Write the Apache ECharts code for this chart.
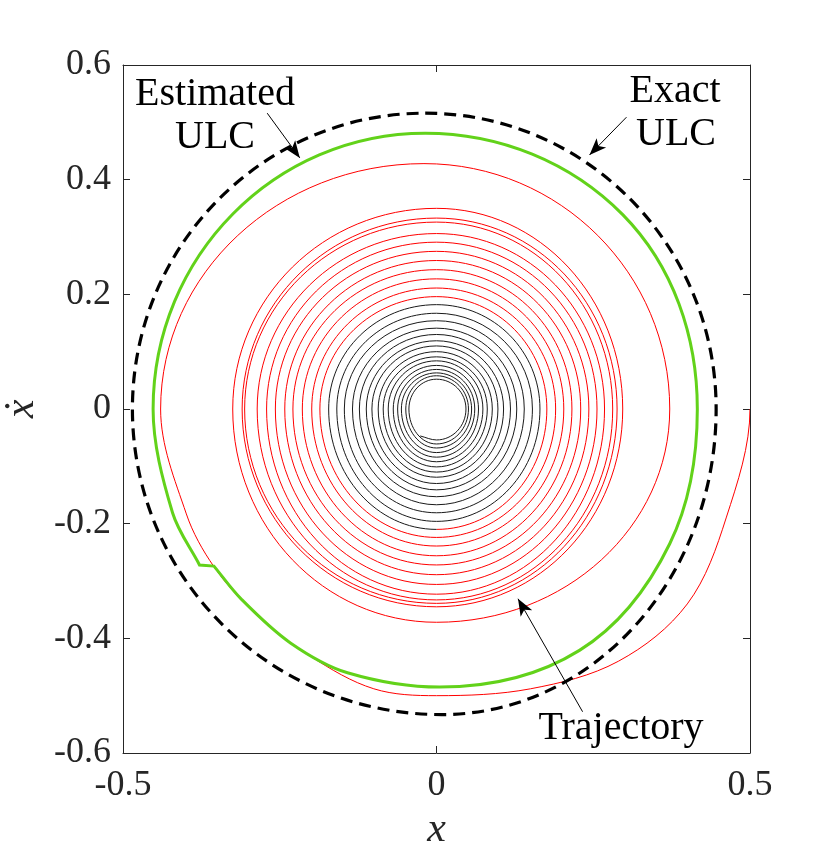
<!DOCTYPE html>
<html>
<head>
<meta charset="utf-8">
<script src="https://cdn.jsdelivr.net/npm/echarts@6/dist/echarts.min.js"></script>
<style>html,body{margin:0;padding:0;background:#fff}#c{width:830px;height:857px}</style>
</head>
<body>
<div id="c"></div>
<script>
// ---------- data ----------
var xTicks = [-0.5, 0, 0.5];
var yTicks = [-0.6, -0.4, -0.2, 0, 0.2, 0.4, 0.6];

// first one and a half turns of the trajectory (x, xdot)
var trajOuter = [
  [0.500, 0.000], [0.462, -0.190], [0.400, -0.340], [0.290, -0.440], [0.150, -0.488],
  [0.000, -0.500], [-0.100, -0.488], [-0.200, -0.432], [-0.290, -0.356], [-0.355, -0.275],
  [-0.399, -0.183], [-0.440, 0.000], [-0.020, 0.428], [0.372, 0.000], [0.000, -0.372]
];
// turn extremes of the red part (left x, top xdot, right x, bottom xdot)
var redLeft   = [-0.325, -0.310, -0.306, -0.286, -0.271, -0.257, -0.242, -0.229, -0.214, -0.199, -0.186];
var redTop    = [0.350, 0.333, 0.326, 0.306, 0.291, 0.275, 0.259, 0.243, 0.227, 0.211, 0.196];
var redRight  = [0.297, 0.288, 0.281, 0.268, 0.256, 0.243, 0.230, 0.216, 0.203, 0.190, 0.176];
var redBottom = [-0.345, -0.339, -0.333, -0.323, -0.306, -0.289, -0.272, -0.256, -0.239, -0.224, -0.210];
// turn extremes of the black part
var blackLeft   = [-0.172, -0.159, -0.147, -0.134, -0.123, -0.112, -0.103, -0.093, -0.085, -0.077, -0.069, -0.062, -0.056, -0.049, -0.044];
var blackTop    = [0.182, 0.167, 0.154, 0.141, 0.130, 0.119, 0.110, 0.100, 0.091, 0.084, 0.076, 0.069, 0.063, 0.058, 0.052];
var blackRight  = [0.165, 0.153, 0.140, 0.128, 0.118, 0.107, 0.098, 0.089, 0.081, 0.074, 0.067, 0.061, 0.056, 0.051, 0.047];
var blackBottom = [-0.196, -0.181, -0.167, -0.153, -0.141, -0.130, -0.119, -0.110, -0.101, -0.092, -0.084, -0.076, -0.068, -0.061, -0.054];
var trajEnd = [-0.026, -0.047];

// exact ULC extremes (top, right, bottom, left)
var exactULC = [[-0.018, 0.516], [0.446, 0.000], [0.008, -0.533], [-0.485, 0.000]];
// estimated ULC
var estULC = [
  [-0.018, 0.481], [0.297, 0.339], [0.416, 0.000], [0.372, -0.235], [0.228, -0.421],
  [0.005, -0.485], [-0.142, -0.460], [-0.233, -0.408], [-0.311, -0.332], [-0.355, -0.274],
  [-0.378, -0.272], [-0.421, -0.181], [-0.452, 0.000]
];
var estKinkIdx = [9, 10];

var arrows = [
  [[-0.270, 0.516], [-0.218, 0.438]],
  [[0.303, 0.509], [0.244, 0.443]],
  [[0.233, -0.528], [0.130, -0.331]]
];

// ---------- build point lists ----------
var redPts = trajOuter.slice();
for (var i = 0; i < redLeft.length; i++) {
  redPts.push([redLeft[i], 0], [0, redTop[i]], [redRight[i], 0], [0, redBottom[i]]);
}
var blackPts = [redPts[redPts.length - 1]];
for (var j = 0; j < blackLeft.length; j++) {
  blackPts.push([blackLeft[j], 0], [0, blackTop[j]], [blackRight[j], 0], [0, blackBottom[j]]);
}
blackPts.push(trajEnd);

function kinds(list, closed, corners) {
  var n = list.length;
  return list.map(function (p, i) {
    if (corners && corners.indexOf(i) >= 0) return 'C';
    if (p[1] === 0) return 'V';
    var a = closed ? list[(i - 1 + n) % n] : list[Math.max(0, i - 1)];
    var b = closed ? list[(i + 1) % n] : list[Math.min(n - 1, i + 1)];
    if (Math.abs(p[1]) >= Math.abs(a[1]) && Math.abs(p[1]) >= Math.abs(b[1])) return 'H';
    return '';
  });
}

function buildPath(api, list, closed, corners) {
  var ks = kinds(list, closed, corners);
  var P = list.map(function (p, i) { var c = api.coord(p); return { x: c[0], y: c[1], k: ks[i] }; });
  var n = P.length, K = 0.5523;
  function at(i) { return closed ? P[(i + n) % n] : P[Math.max(0, Math.min(n - 1, i))]; }
  function unit(dx, dy) { var l = Math.sqrt(dx * dx + dy * dy) || 1; return [dx / l, dy / l]; }
  var tin = [], tout = [];
  for (var i = 0; i < n; i++) {
    var p = P[i], a = at(i - 1), b = at(i + 1);
    if (p.k === 'C') { tin[i] = unit(p.x - a.x, p.y - a.y); tout[i] = unit(b.x - p.x, b.y - p.y); continue; }
    var dx = b.x - a.x, dy = b.y - a.y;
    if (p.k === 'H') dy = 0; else if (p.k === 'V') dx = 0;
    tin[i] = tout[i] = unit(dx, dy);
  }
  var f2 = function (v) { return v.toFixed(2); };
  var d = 'M' + f2(P[0].x) + ' ' + f2(P[0].y);
  var segs = closed ? n : n - 1;
  for (var s = 0; s < segs; s++) {
    var jj = (s + 1) % n, p0 = P[s], p1 = P[jj], t0 = tout[s], t1 = tin[jj], h0, h1;
    if ((p0.k === 'H' && p1.k === 'V') || (p0.k === 'V' && p1.k === 'H')) {
      h0 = K * (p0.k === 'H' ? Math.abs(p1.x - p0.x) : Math.abs(p1.y - p0.y));
      h1 = K * (p1.k === 'H' ? Math.abs(p1.x - p0.x) : Math.abs(p1.y - p0.y));
    } else {
      var ch = Math.sqrt((p1.x - p0.x) * (p1.x - p0.x) + (p1.y - p0.y) * (p1.y - p0.y));
      var c = Math.max(-1, Math.min(1, t0[0] * t1[0] + t0[1] * t1[1]));
      var th = Math.acos(c);
      var f = th < 1e-3 ? 1 / 3 : (4 / 3) * Math.tan(th / 4) / (2 * Math.sin(th / 2));
      h0 = h1 = ch * f;
    }
    d += ' C' + f2(p0.x + t0[0] * h0) + ' ' + f2(p0.y + t0[1] * h0) + ' ' +
         f2(p1.x - t1[0] * h1) + ' ' + f2(p1.y - t1[1] * h1) + ' ' + f2(p1.x) + ' ' + f2(p1.y);
  }
  if (closed) d += ' Z';
  return d;
}

function curveSeries(name, list, closed, corners, style) {
  return {
    name: name, type: 'custom', coordinateSystem: 'cartesian2d', clip: true, silent: true,
    data: [[0, 0]], encode: { x: 0, y: 1 },
    renderItem: function (params, api) {
      return { type: 'path', shape: { pathData: buildPath(api, list, closed, corners) }, style: style };
    }
  };
}

var FONT = '"Liberation Serif", "Times New Roman", "DejaVu Serif", serif';
var AX = '#262626';

function axisBase(extra) {
  var o = {
    type: 'value',
    axisLine: { show: true, onZero: false, lineStyle: { color: AX, width: 1 } },
    axisTick: { show: true, inside: true, length: 7, lineStyle: { color: AX, width: 1 } },
    splitLine: { show: false }
  };
  for (var k in extra) o[k] = extra[k];
  return o;
}

function txt(t, x, y) {
  return { type: 'text', x: x, y: y, silent: true,
    style: { text: t, font: '40px ' + FONT, fill: '#000', textAlign: 'center', textVerticalAlign: 'middle', align: 'center', verticalAlign: 'middle' } };
}

var chart = echarts.init(document.getElementById('c'), null, { renderer: 'canvas' });
chart.setOption({
  animation: false,
  backgroundColor: '#fff',
  grid: { left: 123, right: 80, top: 65, bottom: 104, containLabel: false, outerBoundsMode: 'none' },
  xAxis: [
    axisBase({ position: 'bottom', min: xTicks[0], max: xTicks[xTicks.length - 1], interval: 0.5,
      axisLabel: { fontSize: 36, fontFamily: FONT, color: AX, margin: 15, showMinLabel: true, showMaxLabel: true,
        formatter: function (v) { return String(+v.toFixed(1)); } },
      name: 'x', nameLocation: 'middle', nameGap: 56,
      nameTextStyle: { fontSize: 42, fontStyle: 'italic', fontFamily: FONT, color: AX } }),
    axisBase({ position: 'top', min: xTicks[0], max: xTicks[xTicks.length - 1], interval: 0.5,
      axisLabel: { show: false } })
  ],
  yAxis: [
    axisBase({ position: 'left', min: yTicks[0], max: yTicks[yTicks.length - 1], interval: 0.2,
      axisLabel: { fontSize: 36, fontFamily: FONT, color: AX, margin: 12, showMinLabel: true, showMaxLabel: true,
        padding: [4, 0, 0, 0],
        formatter: function (v) { return String(+v.toFixed(1)); } },
      name: '\u1E8B', nameLocation: 'middle', nameGap: 74, nameRotate: 90,
      nameTextStyle: { fontSize: 42, fontStyle: 'italic', fontFamily: FONT, color: AX } }),
    axisBase({ position: 'right', min: yTicks[0], max: yTicks[yTicks.length - 1], interval: 0.2,
      axisLabel: { show: false } })
  ],
  series: [
    curveSeries('Trajectory red', redPts, false, null, { fill: 'none', stroke: '#ff0000', lineWidth: 1 }),
    curveSeries('Trajectory black', blackPts, false, null, { fill: 'none', stroke: '#1a1a1a', lineWidth: 1 }),
    curveSeries('Exact ULC', exactULC, true, null, { fill: 'none', stroke: '#000', lineWidth: 3.2, lineDash: [12, 7] }),
    curveSeries('Estimated ULC', estULC, true, estKinkIdx, { fill: 'none', stroke: '#62d21a', lineWidth: 3, lineJoin: 'miter' }),
    {
      name: 'arrows', type: 'line', data: [], silent: true,
      markLine: {
        silent: true, animation: false, symbol: ['none', 'arrow'], symbolSize: [10, 17],
        label: { show: false },
        lineStyle: { color: '#000', width: 1, type: 'solid' },
        data: arrows.map(function (a) { return [{ coord: a[0] }, { coord: a[1] }]; })
      }
    }
  ],
  graphic: [
    txt('Estimated', 215, 94),
    txt('ULC', 215, 137),
    txt('Exact', 675, 91),
    txt('ULC', 676, 134),
    txt('Trajectory', 621, 728)
  ]
});
</script>
</body>
</html>
